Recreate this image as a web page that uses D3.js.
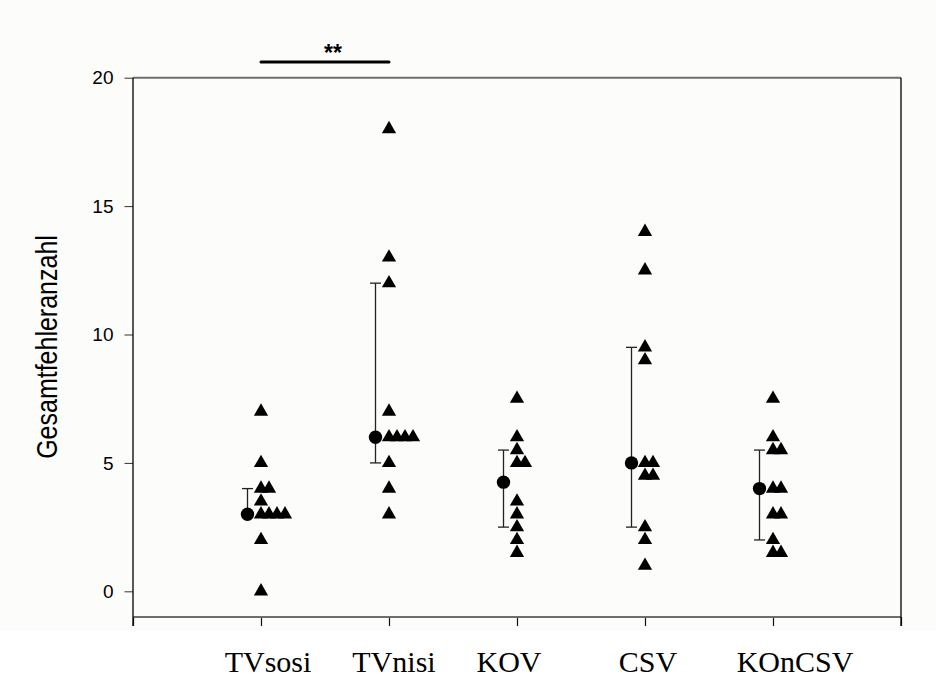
<!DOCTYPE html>
<html>
<head>
<meta charset="utf-8">
<script src="https://cdn.jsdelivr.net/npm/d3@7"></script>
<style>
  body { margin: 0; background: #fcfcfa; }
  svg { display: block; }
</style>
</head>
<body>
<div class="chart"></div>
<script>
// groups (x axis)
const categories = ['TVsosi', 'TVnisi', 'KOV', 'CSV', 'KOnCSV'];

// single values per group
const tvsosi = [7, 5, 4, 4, 3.5, 3, 3, 3, 3, 2, 0];
const tvnisi = [18, 13, 12, 7, 6, 6, 6, 6, 5, 4, 3];
const kov    = [7.5, 6, 5.5, 5, 5, 3.5, 3, 2.5, 2, 1.5];
const csv    = [14, 12.5, 9.5, 9, 5, 5, 4.5, 4.5, 2.5, 2, 1];
const koncsv = [7.5, 6, 5.5, 5.5, 4, 4, 3, 3, 2, 1.5, 1.5];

// median + quartiles (circle and bar)
const medians = [3, 6, 4.25, 5, 4];
const q1 = [3, 5, 2.5, 2.5, 2];
const q3 = [4, 12, 5.5, 9.5, 5.5];

const yTicks = [0, 5, 10, 15, 20];
const sigPair = ['TVsosi', 'TVnisi'];
const sigLabel = '**';
const yTitle = 'Gesamtfehleranzahl';

const groups = [tvsosi, tvnisi, kov, csv, koncsv];

const width = 936, height = 682;
const plot = {left: 133, right: 901, top: 77.7, bottom: 617};

const svg = d3.select('.chart').append('svg')
  .attr('width', width).attr('height', height);

// white strip under the plot area
svg.append('rect').attr('x', 0).attr('y', 631).attr('width', width).attr('height', height - 631)
  .attr('fill', '#ffffff');

const x = d3.scaleLinear().domain([0, categories.length + 1]).range([plot.left, plot.right]);
const y = d3.scaleLinear().domain([-1, 20]).range([plot.bottom, plot.top]);
const xPos = name => x(categories.indexOf(name) + 1);

// axes
const xAxis = d3.axisBottom(x).tickValues(d3.range(0, categories.length + 2)).tickSize(9).tickFormat('');
svg.append('g').attr('class', 'x axis')
  .attr('transform', `translate(0,${plot.bottom})`)
  .call(xAxis)
  .call(g => g.select('.domain').remove())
  .call(g => g.selectAll('line').attr('stroke', '#111').attr('stroke-width', 1.2));

const yAxis = d3.axisLeft(y).tickValues(yTicks).tickSize(8.5).tickPadding(11);
svg.append('g').attr('class', 'y axis')
  .attr('transform', `translate(${plot.left},0)`)
  .call(yAxis)
  .call(g => g.select('.domain').remove())
  .call(g => g.selectAll('line').attr('stroke', '#333').attr('stroke-width', 1))
  .call(g => g.selectAll('text')
    .style('font-family', 'Arial, "Liberation Sans", sans-serif')
    .style('font-size', '19px').attr('fill', '#000'));

// frame: grey top/bottom, black left/right
svg.append('line').attr('x1', plot.left).attr('x2', plot.right)
  .attr('y1', y(20)).attr('y2', y(20)).attr('stroke', '#6e6e6e').attr('stroke-width', 2);
svg.append('line').attr('x1', plot.left).attr('x2', plot.right)
  .attr('y1', plot.bottom).attr('y2', plot.bottom).attr('stroke', '#6e6e6e').attr('stroke-width', 2.2);
svg.append('line').attr('x1', plot.left).attr('x2', plot.left)
  .attr('y1', y(20)).attr('y2', plot.bottom + 9).attr('stroke', '#000').attr('stroke-width', 1.3);
svg.append('line').attr('x1', plot.right).attr('x2', plot.right)
  .attr('y1', y(20)).attr('y2', plot.bottom + 9).attr('stroke', '#000').attr('stroke-width', 1.3);

// category labels (serif, below the axis), not exactly under the ticks
const labelDx = [7, 5, -8, 3, 22];
svg.append('g').selectAll('text')
  .data(categories)
  .enter().append('text')
  .attr('x', (d, i) => xPos(d) + labelDx[i])
  .attr('y', 672)
  .attr('text-anchor', 'middle')
  .style('font-family', '"Liberation Serif", "Times New Roman", serif')
  .style('font-size', '30px')
  .text(d => d);

// y title
svg.append('text')
  .attr('transform', 'translate(57,347) rotate(-90) scale(1,1.15)')
  .attr('text-anchor', 'middle')
  .style('font-family', 'Arial, "Liberation Sans", sans-serif')
  .style('font-size', '25px')
  .text(yTitle);

// error bars (quartiles), left of each group
const barOff = -13.5, capW = 11;
const bars = svg.append('g').attr('class', 'errbars')
  .selectAll('g').data(categories).enter().append('g');
bars.append('line')
  .attr('x1', d => xPos(d) + barOff).attr('x2', d => xPos(d) + barOff)
  .attr('y1', (d, i) => y(q3[i])).attr('y2', (d, i) => y(q1[i]))
  .attr('stroke', '#222').attr('stroke-width', 1.3);
bars.append('line')
  .attr('x1', d => xPos(d) + barOff - capW / 2).attr('x2', d => xPos(d) + barOff + capW / 2)
  .attr('y1', (d, i) => y(q3[i])).attr('y2', (d, i) => y(q3[i]))
  .attr('stroke', '#222').attr('stroke-width', 1.3);
bars.append('line')
  .attr('x1', d => xPos(d) + barOff - capW / 2).attr('x2', d => xPos(d) + barOff + capW / 2)
  .attr('y1', (d, i) => y(q1[i])).attr('y2', (d, i) => y(q1[i]))
  .attr('stroke', '#222').attr('stroke-width', 1.3);

// median dots
svg.append('g').selectAll('path')
  .data(categories).enter().append('path')
  .attr('d', d3.symbol(d3.symbolCircle).size(140))
  .attr('transform', (d, i) => `translate(${xPos(d) + barOff},${y(medians[i])})`)
  .attr('fill', '#000');

// triangles, equal values pushed to the right
const dodge = 8;
const points = [];
groups.forEach((vals, gi) => {
  const seen = new Map();
  vals.forEach(v => {
    const k = seen.get(v) || 0;
    seen.set(v, k + 1);
    points.push({cat: categories[gi], value: v, k: k});
  });
});
svg.append('g').selectAll('path')
  .data(points).enter().append('path')
  .attr('d', d3.symbol(d3.symbolTriangle).size(88))
  .attr('transform', d => `translate(${xPos(d.cat) + d.k * dodge},${y(d.value)})`)
  .attr('fill', '#000');

// significance bar
const sx1 = xPos(sigPair[0]), sx2 = xPos(sigPair[1]);
svg.append('line').attr('x1', sx1).attr('x2', sx2).attr('y1', 62).attr('y2', 62)
  .attr('stroke', '#000').attr('stroke-width', 3).attr('stroke-linecap', 'round');
svg.append('text')
  .attr('x', (sx1 + sx2) / 2 + 8).attr('y', 61)
  .attr('text-anchor', 'middle')
  .style('font-family', 'Arial, "Liberation Sans", sans-serif')
  .style('font-size', '23px').style('font-weight', 'bold')
  .text(sigLabel);
</script>
</body>
</html>
